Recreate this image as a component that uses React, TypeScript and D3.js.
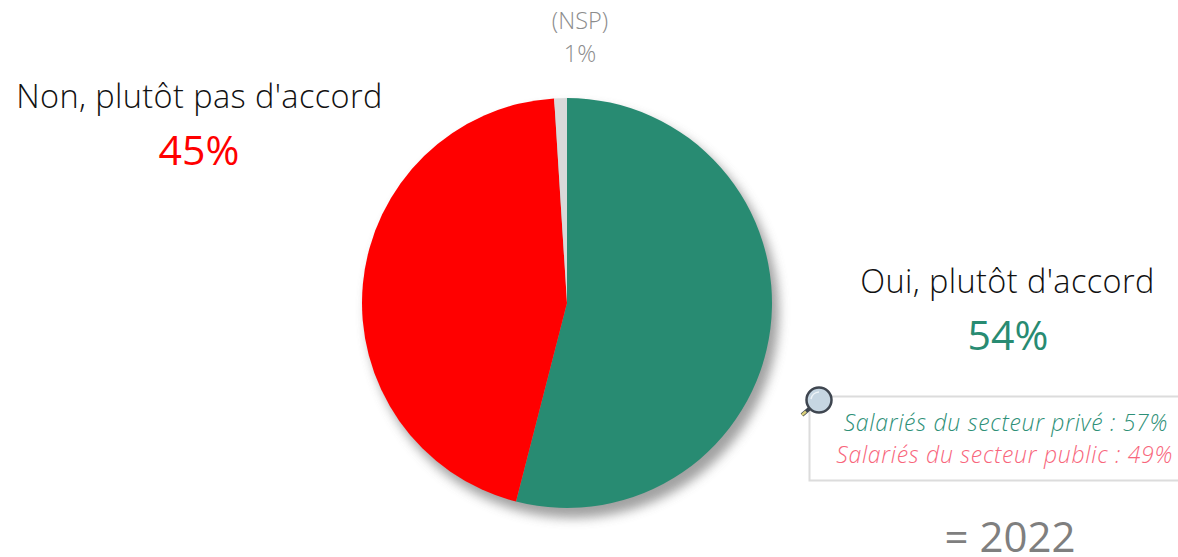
import React from "react";
import * as d3 from "d3";

const categories = ["Oui, plutôt d'accord", "Non, plutôt pas d'accord", "(NSP)"];
const values = [54, 45, 1];
const colors = ["#288B72", "#FF0000", "#D9D9D9"];
const valueLabels = ["54%", "45%", "1%"];
const detailLabels = ["Salariés du secteur privé : 57%", "Salariés du secteur public : 49%"];
const detailColors = ["#2E9077", "#F8667C"];
const yearLabel = "= 2022";

const FONT = "'Open Sans', sans-serif";

export default function App() {
  const cx = 567, cy = 303, r = 205;
  const pie = d3.pie<number>().sort(null)(values);
  const arc = d3.arc<d3.PieArcDatum<number>>().innerRadius(0).outerRadius(r);
  return (
    <svg width={1178} height={557} style={{ position: "absolute", left: 0, top: 0, background: "#fff" }} fontFamily={FONT} fontWeight={300}>
      <defs>
        <filter id="sh" x="-20%" y="-20%" width="140%" height="140%">
          <feGaussianBlur stdDeviation="5.500" />
        </filter>
      </defs>
      <circle cx={cx + 6} cy={cy + 9} r={r + 1} fill="#8a8a8a" opacity={0.8} filter="url(#sh)" />
      <g transform={`translate(${cx},${cy})`}>
        {pie.map((d, i) => (
          <path key={i} d={arc(d) ?? ""} fill={colors[i]} />
        ))}
      </g>

      <text x={1007.500} y={293} textAnchor="middle" fontSize={32.500} letterSpacing={0.4} fill="#111">{categories[0]}</text>
      <text x={1008} y={350} textAnchor="middle" fontSize={41} fontWeight={400} fill={colors[0]}>{valueLabels[0]}</text>

      <text x={199.500} y={108} textAnchor="middle" fontSize={32.500} letterSpacing={0.4} fill="#111">{categories[1]}</text>
      <text x={199} y={165} textAnchor="middle" fontSize={41} fontWeight={400} fill={colors[1]}>{valueLabels[1]}</text>

      <text x={580} y={29} textAnchor="middle" fontSize={23.500} fill="#8c8c8c">{categories[2]}</text>
      <text x={580} y={62} textAnchor="middle" fontSize={23.500} fill="#8c8c8c">{valueLabels[2]}</text>

      <path d="M1178,396.500H809.500V480.500H1178" fill="none" stroke="#DCDCDC" strokeWidth={2} />
      <text x={1168} y={431} textAnchor="end" fontSize={23} letterSpacing={0.72} fontStyle="italic" fill={detailColors[0]}>{detailLabels[0]}</text>
      <text x={1173} y={463} textAnchor="end" fontSize={23} letterSpacing={0.72} fontStyle="italic" fill={detailColors[1]}>{detailLabels[1]}</text>

      <g>
        <line x1={802} y1={415} x2={809} y2={409} stroke="#3f4650" strokeWidth={4} />
        <line x1={802} y1={415} x2={806} y2={411.500} stroke="#d9cf7a" strokeWidth={2.500} />
        <line x1={808} y1={410} x2={812} y2={406} stroke="#3f4650" strokeWidth={2.500} />
        <circle cx={819} cy={400} r={12.500} fill="#C6D6E2" stroke="#3f4650" strokeWidth={2.500} />
        <path d="M811,399 A8.500,8.500 0 0 1 819,392" fill="none" stroke="#eef4f8" strokeWidth={1.500} />
      </g>

      <text x={1010} y={552} textAnchor="middle" fontSize={42} fill="#7f7f7f" fontWeight={400}>{yearLabel}</text>
    </svg>
  );
}
